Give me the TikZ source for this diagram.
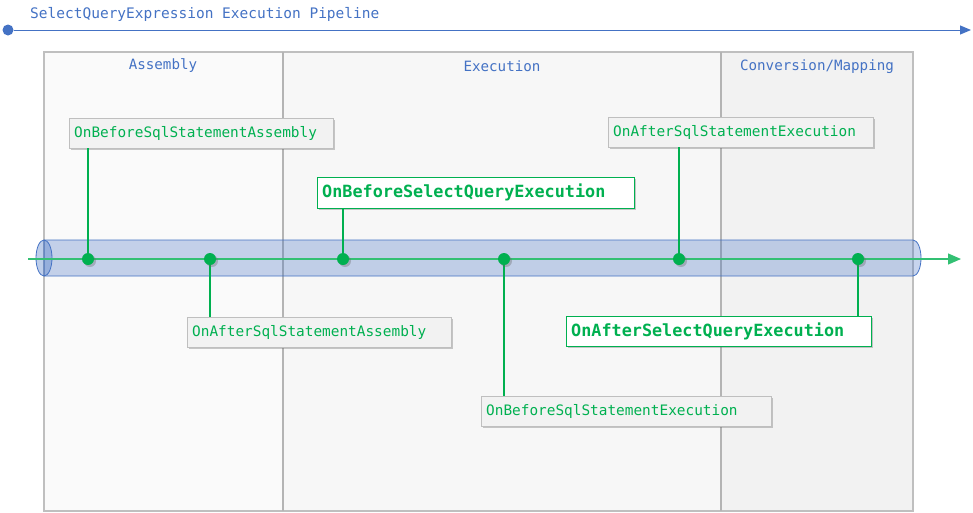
\documentclass[tikz,border=0pt]{standalone}
\usepackage{fontspec}
\setmonofont{DejaVu Sans Mono}
\usepackage{tikz}
\usetikzlibrary{arrows.meta,shadows}

\definecolor{pipeblue}{HTML}{4472C4}
\definecolor{evgreen}{HTML}{00B050}
\definecolor{lanegray}{HTML}{B4B4B4}
\definecolor{boxgray}{HTML}{BFBFBF}
\definecolor{boxfill}{HTML}{F2F2F2}

\tikzset{
  evshadow/.style={drop shadow={shadow xshift=2pt,shadow yshift=-2pt,opacity=0.35,fill=black!60}},
  evbox/.style={draw=boxgray, fill=boxfill, anchor=north west, inner sep=5pt,
    minimum height=30pt, text=evgreen, align=left, evshadow,
    font=\ttfamily\fontsize{14.4}{16}\selectfont},
  keybox/.style={evbox, draw=evgreen, fill=white, font=\ttfamily\bfseries\fontsize{16.8}{18}\selectfont},
  lanelabel/.style={text=pipeblue, font=\ttfamily\fontsize{14.2}{16}\selectfont},
  evdot/.style={circle, fill=evgreen, inner sep=0pt, minimum size=12pt, evshadow},
  evstem/.style={draw=evgreen, line width=2pt}
}

\begin{document}
\begin{tikzpicture}[x=1pt,y=-1pt]
\useasboundingbox (0,0) rectangle (973,512);

% title timeline
\node[lanelabel, anchor=west, inner sep=0pt, font=\ttfamily\fontsize{14.5}{16}\selectfont] (title) at (30,14) {SelectQueryExpression Execution Pipeline};
\node[circle, fill=pipeblue, inner sep=0pt, minimum size=11pt] (start) at (8,30) {};
\coordinate (titleend) at (971,30);
\draw[pipeblue, line width=1pt, -{Triangle[length=11pt,width=9pt]}] (start) -- (titleend);

% lanes
\fill[black!2] (44,52) rectangle (283,511);
\fill[black!3] (283,52) rectangle (721,511);
\fill[black!5] (721,52) rectangle (913,511);
\draw[boxgray, line width=1.2pt] (44,52) rectangle (913,511);
\draw[lanegray, line width=1.2pt] (283,52) -- (283,511);
\draw[lanegray, line width=1.2pt] (721,52) -- (721,511);
\node[lanelabel] (assembly) at (163,66) {Assembly};
\node[lanelabel] (execution) at (502,66) {Execution};
\node[lanelabel] (mapping) at (817,67) {Conversion/Mapping};

% pipe
\filldraw[draw=pipeblue, fill=pipeblue, fill opacity=0.3, line width=0.8pt]
  (44,240) -- (913,240) arc[start angle=-90, end angle=90, x radius=8, y radius=18] -- (44,276) -- cycle;
\filldraw[draw=pipeblue, fill=pipeblue, fill opacity=0.35, line width=0.8pt] (44,258) ellipse[x radius=8, y radius=18];

% flow line
\coordinate (flowstart) at (28,259);
\coordinate (flowend) at (961,259);
\draw[evgreen!80!white, line width=1.2pt, -{Triangle[length=13pt,width=11pt]}] (flowstart) -- (flowend);

% event boxes
\node[evbox, text width=254pt] (bsa) at (69,118) {OnBeforeSqlStatementAssembly};
\node[evbox, text width=254pt] (asa) at (187,317) {OnAfterSqlStatementAssembly};
\node[keybox, text width=307pt, minimum height=31pt] (bqe) at (317,177) {OnBeforeSelectQueryExecution};
\node[evbox, text width=280pt] (bse) at (481,396) {OnBeforeSqlStatementExecution};
\node[evbox, text width=255pt] (ase) at (608,117) {OnAfterSqlStatementExecution};
\node[keybox, text width=295pt] (aqe) at (566,316) {OnAfterSelectQueryExecution};

% stems and dots
\foreach \x/\n in {88/bsa,210/asa,343/bqe,504/bse,679/ase,858/aqe}
  \coordinate (d\n) at (\x,259);
\foreach \n in {bsa,bqe,ase}
  \draw[evstem] (d\n) -- (d\n |- \n.south);
\foreach \n in {asa,bse,aqe}
  \draw[evstem] (d\n) -- (d\n |- \n.north);
\foreach \n in {bsa,asa,bqe,bse,ase,aqe}
  \node[evdot] (dot\n) at (d\n) {};
\end{tikzpicture}
\end{document}
